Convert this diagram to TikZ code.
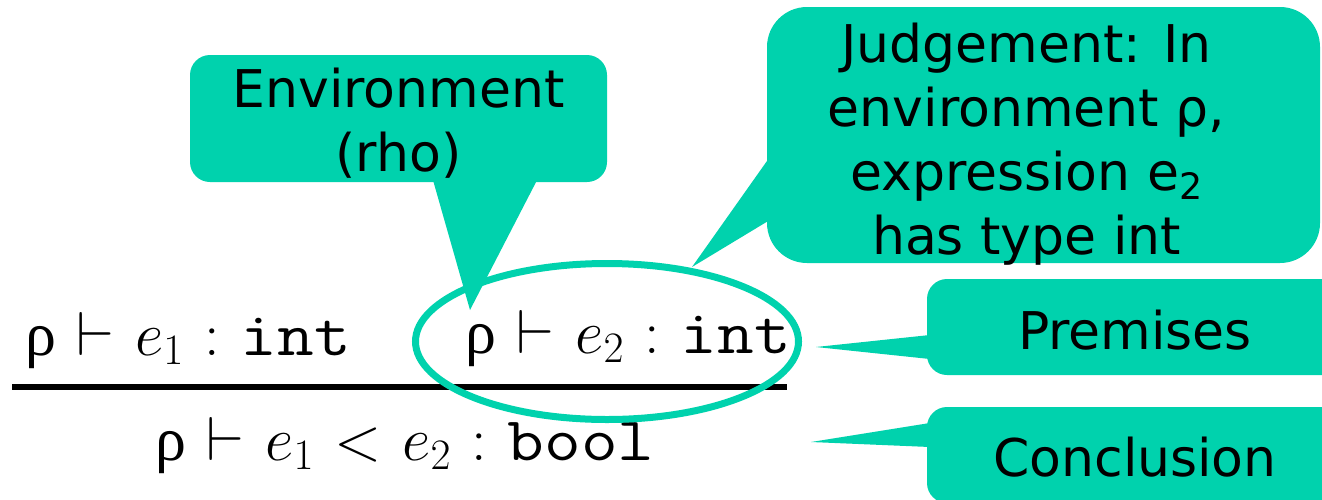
\RequirePackage{fix-cm}
\documentclass[tikz,border=0pt]{standalone}
\usepackage{fontspec}
\usetikzlibrary{shapes.geometric}
\newfontfamily\callfont{DejaVu Sans}
\newfontfamily\greekfont{Liberation Serif}
\definecolor{callteal}{HTML}{00D2AD}
\newcommand\rhoup{\mbox{\greekfont ρ}}
\newcommand\code[1]{\scalebox{1.15}[1]{\ttfamily #1}}
\tikzset{
  callout/.style={fill=callteal, inner sep=0pt, rounded corners=20pt},
  calltext/.style={font={\callfont\fontsize{52}{64}\selectfont}, align=center, text=black, inner sep=0pt},
  pointer/.style={fill=callteal},
  formula/.style={font={\fontsize{62}{70}\selectfont\thickmuskip=6mu}, anchor=base west, inner sep=0pt},
  ring/.style={ellipse, draw=callteal, line width=7pt, inner sep=0pt},
  infbar/.style={draw=black, line width=6pt},
}

\begin{document}
\begin{tikzpicture}[x=1pt, y=-1pt]
\useasboundingbox (0,0) rectangle (1322,499);
\clip (0,0) rectangle (1322,499);
% --- inference rule
\node[formula] (premA) at (25,355) {$\rhoup\vdash e_1 : \code{int}$};
\node[formula] (premB) at (465,353) {$\rhoup\vdash e_2 : \code{int}$};
\node[formula] (concl) at (155,460) {$\rhoup\vdash e_1 < e_2 : \code{bool}$};
\coordinate (barL) at (12,387);
\coordinate (barR) at (787,387);
\draw[infbar] (barL) -- (barR);
\node[ring, minimum width=383, minimum height=156] (ring) at (607,341.5) {};
% --- callouts
\node[callout, minimum width=417, minimum height=127] (envbox) at (398.5,118.5) {};
\node[calltext] (envtxt) at ([yshift=-5pt]envbox.center) {Environment\\(rho)};
\node[callout, rounded corners=40pt, minimum width=553, minimum height=256] (judgebox) at (1043.5,135) {};
\node[calltext] (judgetxt) at ([xshift=-17pt, yshift=-9pt]judgebox.center) {Judgement: In\\environment ρ,\\expression e\textsubscript{2}\\has type int};
\node[callout, minimum width=420, minimum height=96] (prembox) at (1137,327) {};
\node[calltext] (premtxt) at ([xshift=-2pt, yshift=-3pt]prembox.center) {Premises};
\node[callout, minimum width=420, minimum height=96] (conbox) at (1137,455) {};
\node[calltext] (contxt) at ([xshift=-2pt, yshift=-2pt]conbox.center) {Conclusion};
% --- pointers
\coordinate (envtip) at (470,310);
\coordinate (judgetip) at (692,267);
\coordinate (premtip) at (816,347);
\coordinate (contip) at (811,442);
\fill[pointer] ([xshift=34.5pt, yshift=2pt]envbox.south) -- (envtip) -- ([xshift=138.5pt, yshift=2pt]envbox.south) -- cycle;
\fill[pointer] ([xshift=3pt, yshift=-22pt]judgebox.west) -- (judgetip) -- ([xshift=3pt, yshift=-85pt]judgebox.west) -- cycle;
\fill[pointer] ([xshift=3pt, yshift=-8pt]prembox.west) -- (premtip) -- ([xshift=3pt, yshift=-32pt]prembox.west) -- cycle;
\fill[pointer] ([xshift=3pt, yshift=32pt]conbox.west) -- (contip) -- ([xshift=3pt, yshift=8pt]conbox.west) -- cycle;
\end{tikzpicture}
\end{document}
